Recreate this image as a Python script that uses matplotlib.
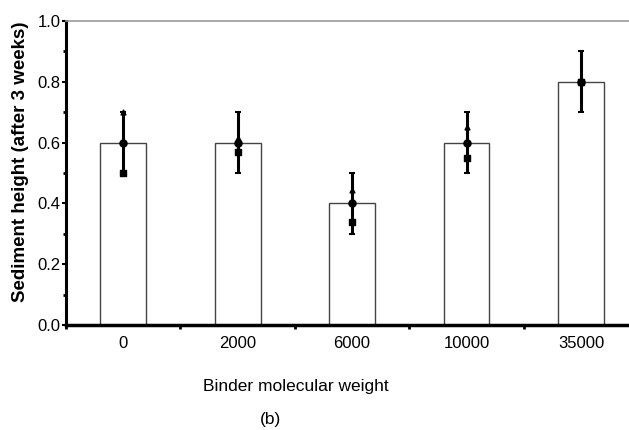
"""
Sediment height after 3 weeks vs binder molecular weight (bar chart, panel b)
"""

import numpy as np
import matplotlib.pyplot as plt
from matplotlib.ticker import MultipleLocator

plt.rcParams['font.family'] = ['Liberation Sans', 'DejaVu Sans']

# data
weights = ['0', '2000', '6000', '10000', '35000']
mean_height = [0.6, 0.6, 0.4, 0.6, 0.8]
err_low = [0.1, 0.1, 0.1, 0.1, 0.1]
err_high = [0.1, 0.1, 0.1, 0.1, 0.1]
# individual samples plotted on top of each bar
samples_tri = [0.70, 0.615, 0.445, 0.65, 0.8]
samples_sq = [0.50, 0.57, 0.34, 0.55, 0.8]
samples_circ = [0.60, 0.60, 0.40, 0.60, 0.8]

fig = plt.figure(figsize=(6.29, 4.30), dpi=100)
ax = fig.add_axes([0.105, 0.244, 0.895, 0.707])

x = np.arange(len(weights))
ax.bar(x, mean_height, width=0.4, color='white', edgecolor='#444444', linewidth=1.0, zorder=2)
ax.errorbar(x, mean_height, yerr=[err_low, err_high], fmt='none', ecolor='black',
            elinewidth=2.2, capsize=2.2, capthick=1.5, zorder=3)
ax.scatter(x, samples_tri, marker='^', s=12, color='black', zorder=4)
ax.scatter(x, samples_sq, marker='s', s=15, color='black', zorder=4)
ax.scatter(x, samples_circ, marker='o', s=26, color='black', zorder=5)

ax.set_xlim(-0.5, 4.42)
ax.set_ylim(0, 1.0)
ax.set_xticks(x)
ax.set_xticklabels(weights)
ax.xaxis.set_minor_locator(MultipleLocator(1.0, offset=0.5))
ax.yaxis.set_major_locator(MultipleLocator(0.2))
ax.yaxis.set_minor_locator(MultipleLocator(0.1))
ax.yaxis.set_major_formatter(plt.FormatStrFormatter('%.1f'))
ax.tick_params(axis='x', which='major', length=0, pad=8, labelsize=12)
ax.tick_params(axis='x', which='minor', length=3, width=2, direction='out')
ax.tick_params(axis='y', which='major', length=3, width=1.5, pad=1, labelsize=12)
ax.tick_params(axis='y', which='minor', length=2, width=2)

ax.spines['left'].set_linewidth(2.2)
ax.spines['bottom'].set_linewidth(2.5)
ax.spines['top'].set_color('#999999')
ax.spines['top'].set_linewidth(1.2)
ax.spines['right'].set_visible(False)

fig.text(0.032, 0.625, 'Sediment height (after 3 weeks)', rotation=90, ha='center',
         va='center', fontsize=13.5, fontweight='bold')
fig.text(0.47, 0.10, 'Binder molecular weight', ha='center', va='center', fontsize=12.5)
fig.text(0.43, 0.025, '(b)', ha='center', va='center', fontsize=12.5)

fig.savefig('out.png', dpi=100)
